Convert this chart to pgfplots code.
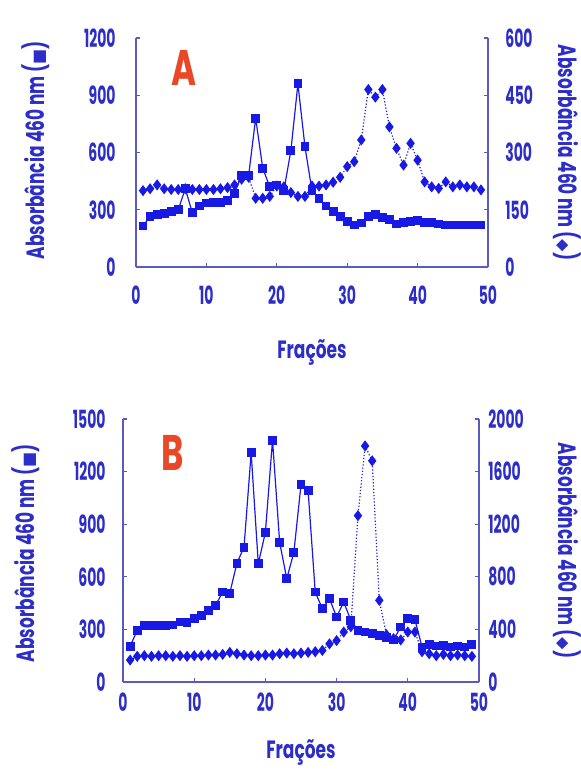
\documentclass[border=0pt]{standalone}
\usepackage{fontspec}
\setmainfont{Poppins}[FakeStretch=0.56]
\newfontfamily\labfont{Poppins}[FakeStretch=0.68]
\newfontfamily\sym{DejaVu Sans}
\usepackage{pgfplots}
\pgfplotsset{compat=1.18}
\usepackage{pgfplotstable}

\definecolor{mk}{RGB}{25,25,230}
\definecolor{tx}{RGB}{45,45,200}
\definecolor{ax}{RGB}{90,90,195}
\definecolor{lab}{RGB}{232,72,40}
\newcommand{\fsz}{\fontsize{12.5}{14}\selectfont\bfseries}
\newcommand{\lsz}{\labfont\fontsize{12.5}{14}\selectfont\bfseries}
\newcommand{\ssym}[1]{{\sym\fontsize{8}{9}\selectfont #1}}

\pgfplotstableread{
x y
1 215
2 265
3 275
4 280
5 290
6 300
7 410
8 285
9 320
10 335
11 340
12 340
13 350
14 387
15 480
16 480
17 780
18 518
19 420
20 430
21 400
22 610
23 960
24 630
25 400
26 360
27 320
28 290
29 265
30 240
31 220
32 230
33 265
34 275
35 260
36 250
37 225
38 235
39 240
40 245
41 235
42 235
43 225
44 220
45 220
46 220
47 220
48 220
49 220
}\sqA

\pgfplotstableread{
x y
1 200
2 205
3 215
4 205
5 203
6 203
7 205
8 203
9 203
10 203
11 203
12 205
13 208
14 215
15 230
16 235
17 180
18 180
19 185
20 212
21 210
22 195
23 185
24 185
25 212
26 212
27 215
28 222
29 235
30 263
31 276
32 333
33 465
34 445
35 465
36 367
37 311
38 267
39 324
40 280
41 223
42 210
43 206
44 223
45 210
46 215
47 210
48 210
49 202
}\diA

\pgfplotstableread{
x y
1 204
2 295
3 320
4 320
5 320
6 320
7 325
8 342
9 340
10 362
11 380
12 409
13 437
14 513
15 507
16 678
17 769
18 1308
19 674
20 854
21 1379
22 797
23 589
24 740
25 1125
26 1091
27 513
28 418
29 475
30 371
31 456
32 352
33 295
34 285
35 276
36 267
37 255
38 240
39 314
40 362
41 355
42 200
43 215
44 205
45 210
46 200
47 205
48 200
49 215
}\sqB

\pgfplotstableread{
x y
1 167
2 195
3 200
4 195
5 200
6 200
7 195
8 200
9 195
10 200
11 200
12 205
13 205
14 210
15 225
16 215
17 205
18 200
19 200
20 205
21 205
22 215
23 220
24 215
25 220
26 225
27 230
28 240
29 290
30 315
31 380
32 420
33 1265
34 1795
35 1682
36 621
37 360
38 330
39 320
40 380
41 380
42 230
43 215
44 200
45 210
46 200
47 205
48 200
49 195
}\diB

\pgfplotsset{
  base/.style={
    scale only axis, xmin=0, xmax=50, ymin=0,
    axis line style={ax, line width=0.6pt},
    tick style={ax, line width=0.6pt},
    tick align=inside, major tick length=2pt,
    ticklabel style={font=\fsz, text=tx, inner sep=0pt},
    label style={font=\lsz, text=tx},
    /pgf/number format/assume math mode=true,
    /pgf/number format/1000 sep={},
    clip=false,
  },
  sq/.style={mk, line width=0.6pt, mark=square*, mark size=1.9pt, mark options={solid, fill=mk}},
  di/.style={mk, line width=0.6pt, densely dotted, mark=diamond*, mark size=2.3pt, mark options={solid, fill=mk}},
}

\begin{document}
\begin{tikzpicture}
\path[use as bounding box] (0,0) rectangle (290.5pt,387pt);

% ---------- Panel A ----------
\begin{axis}[base, at={(68pt,253.5pt)}, anchor=south west,
  width=176pt, height=114.5pt, ymax=1200,
  xtick={0,10,...,50}, ytick={0,300,...,1200},
  axis x line*=bottom, axis y line*=left,
  xticklabel shift=9pt, yticklabel shift=10pt,
  xlabel={Frações},
  xlabel style={at={(axis description cs:0.5,-0.371)}, anchor=center},
  ylabel={Absorbância 460 nm (\ssym{■})},
  ylabel style={at={(axis description cs:-0.284,0.51)}, anchor=center},
]
\addplot[sq] table {\sqA};
\node[font=\labfont\fontsize{25}{27}\selectfont\bfseries, text=lab] at (axis description cs:0.136,0.869) {A};
\end{axis}
\begin{axis}[base, at={(68pt,253.5pt)}, anchor=south west,
  width=176pt, height=114.5pt, ymax=600,
  ytick={0,150,...,600},
  axis x line=none, axis y line*=right,
  yticklabel shift=8.5pt,
  ylabel={Absorbância 460 nm (\ssym{◆})},
  ylabel style={at={(axis description cs:1.224,0.5)}, anchor=center, rotate=180},
]
\addplot[di] table {\diA};
\end{axis}

% ---------- Panel B ----------
\begin{axis}[base, at={(61.5pt,46pt)}, anchor=south west,
  width=178pt, height=131.5pt, ymax=1500,
  xtick={0,10,...,50}, ytick={0,300,...,1500},
  axis x line*=bottom, axis y line*=left,
  xticklabel shift=5pt, yticklabel shift=8.5pt,
  xlabel={Frações},
  xlabel style={at={(axis description cs:0.5,-0.266)}, anchor=center},
  ylabel={Absorbância 460 nm (\ssym{■})},
  ylabel style={at={(axis description cs:-0.272,0.49)}, anchor=center},
]
\addplot[sq] table {\sqB};
\node[font=\labfont\fontsize{25}{27}\selectfont\bfseries, text=lab] at (axis description cs:0.14,0.871) {B};
\end{axis}
\begin{axis}[base, at={(61.5pt,46pt)}, anchor=south west,
  width=178pt, height=131.5pt, ymax=2000,
  ytick={0,400,...,2000},
  axis x line=none, axis y line*=right,
  yticklabel shift=4.5pt,
  ylabel={Absorbância 460 nm (\ssym{◆})},
  ylabel style={at={(axis description cs:1.247,0.5)}, anchor=center, rotate=180},
]
\addplot[di] table {\diB};
\end{axis}
\end{tikzpicture}
\end{document}
